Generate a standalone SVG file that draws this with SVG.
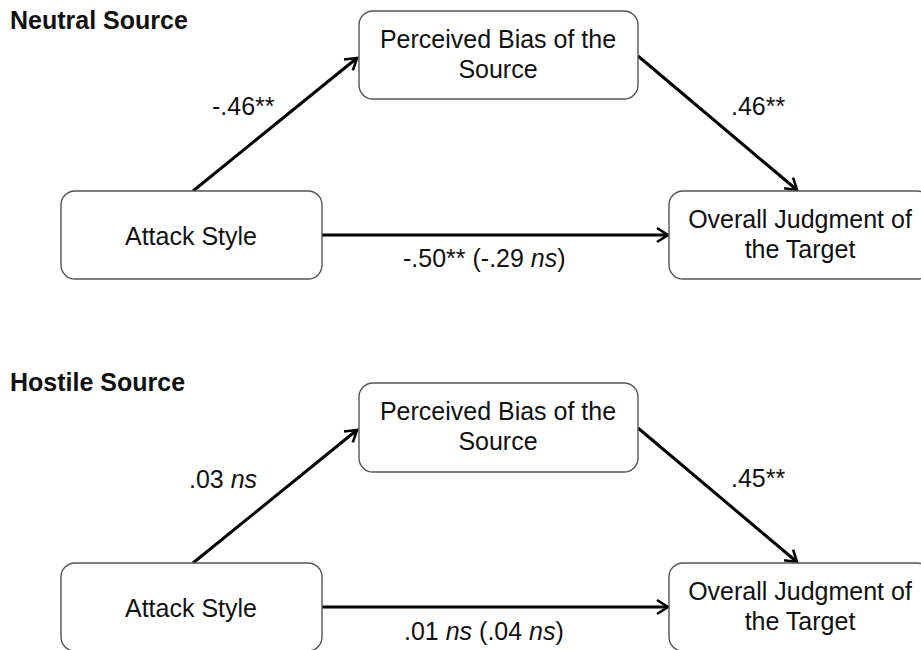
<svg xmlns="http://www.w3.org/2000/svg" width="921" height="650" viewBox="0 0 921 650">
<style>
.box{fill:#fff;stroke:#555;stroke-width:1.4}
.t{font-family:"Liberation Sans",Arial,sans-serif;font-size:25px;fill:#111;text-anchor:middle}
.lab{font-family:"Liberation Sans",Arial,sans-serif;font-size:25px;fill:#111}
.h{font-family:"Liberation Sans",Arial,sans-serif;font-size:25px;font-weight:bold;fill:#111}
.c{stroke:#000;stroke-width:3;fill:none;marker-end:url(#ah)}
</style>
<defs>
<marker id="ah" markerUnits="userSpaceOnUse" markerWidth="16" markerHeight="18" refX="12" refY="8" orient="auto" viewBox="0 0 16 16">
<path d="M1,1 L12,8 L1,15" fill="none" stroke="#000" stroke-width="2.6" stroke-linejoin="miter"/>
</marker>
</defs>
<rect width="921" height="650" fill="#fff"/>
<text class="h" x="10" y="29">Neutral Source</text>
<text class="h" x="10" y="391">Hostile Source</text>
<g id="connectors">
<line class="c" x1="193" y1="191" x2="357" y2="58"/>
<line class="c" x1="638" y1="56" x2="797" y2="190"/>
<line class="c" x1="322" y1="235" x2="668" y2="235"/>
<line class="c" x1="193" y1="563" x2="357" y2="430"/>
<line class="c" x1="638" y1="428" x2="797" y2="562"/>
<line class="c" x1="322" y1="607" x2="668" y2="607"/>
</g>
<g id="labels">
<text class="lab" x="212" y="115">-.46**</text>
<text class="lab" x="731" y="115">.46**</text>
<text class="lab" x="403" y="267">-.50** (-.29 <tspan font-style="italic">ns</tspan>)</text>
<text class="lab" x="189" y="488">.03 <tspan font-style="italic">ns</tspan></text>
<text class="lab" x="731" y="487">.45**</text>
<text class="lab" x="404" y="640">.01 <tspan font-style="italic">ns</tspan> (.04 <tspan font-style="italic">ns</tspan>)</text>
</g>
<g id="n-bias-1">
<rect class="box" x="359" y="11" width="279" height="88" rx="14"/>
<text class="t" x="498" y="48">Perceived Bias of the</text>
<text class="t" x="498" y="78">Source</text>
</g>
<g id="n-attack-1">
<rect class="box" x="61" y="191" width="261" height="88" rx="14"/>
<text class="t" x="191" y="245">Attack Style</text>
</g>
<g id="n-judg-1">
<rect class="box" x="669" y="191" width="262" height="88" rx="14"/>
<text class="t" x="800" y="228">Overall Judgment of</text>
<text class="t" x="800" y="258">the Target</text>
</g>
<g id="n-bias-2">
<rect class="box" x="359" y="383" width="279" height="89" rx="14"/>
<text class="t" x="498" y="420">Perceived Bias of the</text>
<text class="t" x="498" y="450">Source</text>
</g>
<g id="n-attack-2">
<rect class="box" x="61" y="563" width="261" height="88" rx="14"/>
<text class="t" x="191" y="617">Attack Style</text>
</g>
<g id="n-judg-2">
<rect class="box" x="669" y="563" width="262" height="88" rx="14"/>
<text class="t" x="800" y="600">Overall Judgment of</text>
<text class="t" x="800" y="630">the Target</text>
</g>
</svg>
